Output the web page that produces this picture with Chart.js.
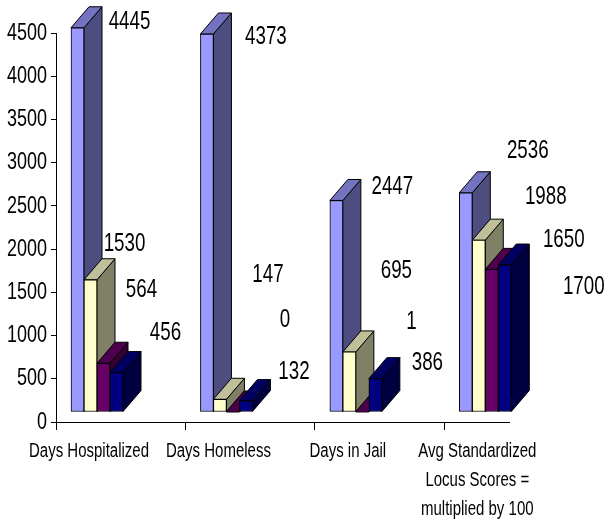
<!DOCTYPE html>
<html lang="en">
<head>
    <meta charset="UTF-8">
    <title>Days Hospitalized, Homeless, in Jail</title>
    <style>
        html, body { margin: 0; padding: 0; background: #fff; }
        #wrap { width: 606px; height: 522px; }
    </style>
</head>
<body>
<div id="wrap"><canvas id="chart" width="606" height="522"></canvas></div>

<script src="https://cdn.jsdelivr.net/npm/chart.js"></script>
<script>
    const categories = [
        'Days Hospitalized',
        'Days Homeless',
        'Days in Jail',
        ['Avg Standardized', 'Locus Scores =', 'multiplied by 100']
    ];
    const seriesA = [4445, 4373, 2447, 2536];
    const seriesB = [1530, 147, 695, 1988];
    const seriesC = [564, 0, 1, 1650];
    const seriesD = [456, 132, 386, 1700];

    // front / side / top colours per series
    const fronts = ['#9999FF', '#FFFFCC', '#660066', '#000080'];
    const sides = ['#4D4D80', '#808066', '#330033', '#000040'];
    const tops = ['#7373BF', '#BFBF99', '#4D004D', '#000060'];

    // where each value label sits relative to its bar top (they were dragged by hand in the original)
    const labelShift = [
        [[52, -6], [59, 3], [56, -13], [62, -42]],
        [[34, -36], [48, -124], [47, -81], [67, -43]],
        [[38, -73], [52, -92], [49, -90], [72, -29]],
        [[49, -39], [48, -28], [52, -16], [79, 22]]
    ];

    const LABEL_FONT = '"Liberation Sans", Arial, sans-serif';
    const SQUEEZE = 0.75; // the original text is a tall narrow Arial

    const BAR_W = 13;
    // bars stand on a floor that is shifted from the axes, plus the depth of the extrusion
    const floor = { dx: 41, dy: -10 };
    const depth = { dx: 18, dy: -21 };

    function poly(ctx, pts, fill) {
        ctx.beginPath();
        pts.forEach((p, i) => i ? ctx.lineTo(p[0], p[1]) : ctx.moveTo(p[0], p[1]));
        ctx.closePath();
        ctx.fillStyle = fill;
        ctx.fill();
        ctx.stroke();
    }

    function seriesDx(k) {
        return floor.dx + (k - 1.5) * BAR_W;
    }

    const bars3d = {
        id: 'bars3d',
        beforeDraw(chart) {
            // narrow the axis labels without touching how the scales place them
            [chart.scales.x, chart.scales.y].forEach(s => {
                if (s.narrowed) return;
                s.narrowed = true;
                s._computeLabelArea = () => undefined; // its clip box would be squeezed too
                const draw = s.drawLabels;
                s.drawLabels = function (area) {
                    this.getLabelItems(area).forEach(it => {
                        if (it.narrowed) return;
                        it.narrowed = true;
                        it.options.translation[0] /= SQUEEZE;
                    });
                    chart.ctx.save();
                    chart.ctx.scale(SQUEEZE, 1);
                    draw.call(this, area);
                    chart.ctx.restore();
                };
            });
        },
        beforeDatasetDraw(chart, args) {
            const ctx = chart.ctx;
            const k = args.index;
            ctx.save();
            ctx.translate(seriesDx(k), floor.dy);
            ctx.strokeStyle = '#000';
            ctx.lineWidth = 1;
            args.meta.data.forEach(el => {
                const { x, y, base, width } = el.getProps(['x', 'y', 'base', 'width'], true);
                const l = x - width / 2, r = x + width / 2;
                poly(ctx, [[r, base], [r + depth.dx, base + depth.dy], [r + depth.dx, y + depth.dy], [r, y]], sides[k]);
                poly(ctx, [[l, y], [l + depth.dx, y + depth.dy], [r + depth.dx, y + depth.dy], [r, y]], tops[k]);
            });
        },
        afterDatasetDraw(chart) {
            chart.ctx.restore();
        },
        afterDatasetsDraw(chart) {
            const ctx = chart.ctx;
            ctx.save();
            ctx.scale(SQUEEZE, 1);
            ctx.fillStyle = '#000';
            ctx.font = '25px ' + LABEL_FONT;
            ctx.textAlign = 'center';
            ctx.textBaseline = 'middle';
            chart.data.datasets.forEach((ds, k) => {
                chart.getDatasetMeta(k).data.forEach((el, i) => {
                    const s = labelShift[k][i];
                    ctx.fillText(String(ds.data[i].y), (el.x + seriesDx(k) + s[0]) / SQUEEZE, el.y + floor.dy + s[1]);
                });
            });
            ctx.restore();
        }
    };

    const allSeries = [seriesA, seriesB, seriesC, seriesD];

    new Chart(document.getElementById('chart'), {
        type: 'bar',
        data: {
            datasets: allSeries.map((vals, k) => ({
                data: vals.map((v, i) => ({ x: i, y: v })),
                backgroundColor: fronts[k],
                borderColor: '#000',
                borderWidth: 1,
                borderSkipped: false,
                barThickness: BAR_W,
                grouped: false,
                clip: false,
                order: allSeries.length - k
            }))
        },
        options: {
            responsive: false,
            animation: false,
            layout: { autoPadding: false, padding: { top: 33, right: 97, left: 0, bottom: 0 } },
            plugins: { legend: { display: false }, tooltip: { enabled: false } },
            scales: {
                x: {
                    type: 'linear',
                    min: 0,
                    max: 3.5,
                    offset: false,
                    afterFit: s => { s.height = 100; s.paddingLeft = 0; s.paddingRight = 0; },
                    afterBuildTicks: s => { s.ticks = s.ticks.filter(t => Number.isInteger(t.value)); },
                    border: { color: '#000' },
                    grid: { drawOnChartArea: false, offset: false, color: '#000', tickColor: '#000', tickLength: 8 },
                    ticks: {
                        stepSize: 1,
                        autoSkip: false,
                        maxRotation: 0,
                        minRotation: 0,
                        labelOffset: 33,
                        padding: 7,
                        color: '#000',
                        font: { family: LABEL_FONT, size: 20, lineHeight: 1.45 },
                        callback: v => categories[v]
                    }
                },
                y: {
                    min: 0,
                    max: 4500,
                    afterFit: s => { s.width = 56; s.paddingTop = 0; s.paddingBottom = 0; },
                    border: { color: '#000' },
                    grid: { drawOnChartArea: false, color: '#000', tickColor: '#000', tickLength: 5 },
                    ticks: {
                        stepSize: 500,
                        padding: 4,
                        color: '#000',
                        font: { family: LABEL_FONT, size: 24 },
                        callback: v => String(v)
                    }
                }
            }
        },
        plugins: [bars3d]
    });
</script>
</body>
</html>
